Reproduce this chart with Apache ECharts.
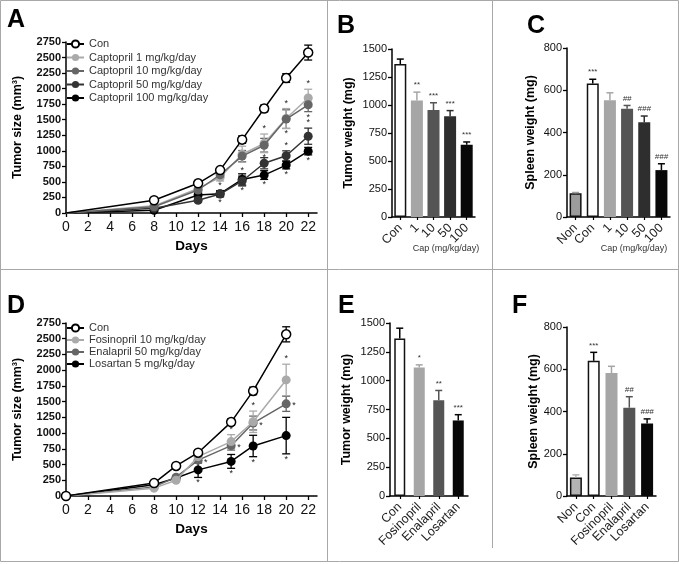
<!DOCTYPE html>
<html><head><meta charset="utf-8">
<script src="https://cdn.jsdelivr.net/npm/echarts@6/dist/echarts.min.js"></script>
<style>html,body{margin:0;padding:0;background:#fff}#c{width:679px;height:564px}</style>
</head><body><div id="c"></div>
<script>
// ---------- Panel A ----------
const daysA = [0, 8, 12, 14, 16, 18, 20, 22];
const dayTicks = [0, 2, 4, 6, 8, 10, 12, 14, 16, 18, 20, 22];
const conA = [0, 205, 478, 690, 1180, 1680, 2170, 2580];
const conAErr = [0, 20, 25, 40, 60, 55, 70, 120];
const cap1 = [0, 115, 395, 575, 945, 1120, 1520, 1850];
const cap1Err = [0, 15, 40, 60, 130, 150, 160, 140];
const cap10 = [0, 100, 370, 615, 915, 1090, 1510, 1740];
const cap10Err = [0, 15, 35, 50, 90, 110, 150, 110];
const cap50 = [0, 75, 205, 305, 515, 800, 920, 1235];
const cap50Err = [0, 10, 30, 40, 80, 90, 80, 130];
const cap100 = [0, 45, 290, 310, 540, 610, 770, 995];
const cap100Err = [0, 10, 30, 50, 90, 70, 60, 60];
// star codes: 0 none, 1 above, 2 below, 3 right
const starsCon = [0, 0, 0, 0, 0, 0, 0, 0];
const starsCap1 = [0, 0, 0, 0, 0, 1, 1, 1];
const starsCap10 = [0, 0, 0, 0, 0, 2, 2, 2];
const starsCap50 = [0, 0, 0, 2, 1, 2, 1, 1];
const starsCap100 = [0, 0, 0, 1, 2, 2, 2, 2];
// ---------- Panel D ----------
const daysD = [0, 8, 10, 12, 15, 17, 20];
const conD = [0, 205, 478, 688, 1175, 1670, 2570];
const conDErr = [0, 20, 25, 40, 50, 60, 120];
const fos = [0, 125, 250, 625, 865, 1180, 1845];
const fosErr = [0, 15, 25, 80, 110, 170, 250];
const ena = [0, 145, 300, 570, 800, 1160, 1465];
const enaErr = [0, 15, 25, 50, 70, 110, 120];
const los = [0, 180, 285, 415, 550, 795, 960];
const losErr = [0, 15, 20, 120, 110, 170, 290];
const starsConD = [0, 0, 0, 0, 0, 0, 0];
const starsFos = [0, 0, 0, 0, 1, 1, 1];
const starsEna = [0, 0, 0, 3, 3, 3, 3];
const starsLos = [0, 0, 0, 2, 2, 2, 2];
// ---------- Panel B ----------
const catsB = ['Con', '1', '10', '50', '100'];
const valsB = [1365, 1040, 955, 900, 645];
const errB = [45, 75, 65, 50, 25];
const starsB = ['', '**', '***', '***', '***'];
// ---------- Panel C ----------
const catsC = ['Non', 'Con', '1', '10', '50', '100'];
const valsC = [112, 632, 553, 513, 448, 222];
const errC = [4, 20, 35, 15, 30, 30];
const starsC = ['', '***', '', '##', '###', '###'];
// ---------- Panel E ----------
const catsE = ['Con', 'Fosinopril', 'Enalapril', 'Losartan'];
const valsE = [1365, 1115, 830, 655];
const errE = [90, 22, 85, 50];
const starsE = ['', '*', '**', '***'];
// ---------- Panel F ----------
const catsF = ['Non', 'Con', 'Fosinopril', 'Enalapril', 'Losartan'];
const valsF = [88, 640, 582, 418, 343];
const errF = [12, 40, 32, 52, 22];
const starsF = ['', '***', '', '##', '###'];

const FONT = '"Liberation Sans", Arial, sans-serif';
const colB = ['#ffffff', '#a6a6a6', '#555555', '#2e2e2e', '#080808'];
const colC = ['#9c9c9c', '#ffffff', '#a6a6a6', '#555555', '#2e2e2e', '#080808'];
const colE = ['#ffffff', '#a6a6a6', '#555555', '#080808'];
const colF = ['#b3b3b3', '#ffffff', '#a6a6a6', '#555555', '#080808'];

function lineErr(color, stars) {
  return function (params, api) {
    const x = api.value(0), y = api.value(1), e = api.value(2);
    const p = api.coord([x, y]);
    const t = api.coord([x, y + e]), b = api.coord([x, y - e]);
    const ch = [];
    if (e > 0) {
      const st = { stroke: color, lineWidth: 1.3 };
      ch.push({ type: 'line', shape: { x1: p[0], y1: t[1], x2: p[0], y2: b[1] }, style: st });
      ch.push({ type: 'line', shape: { x1: p[0] - 4, y1: t[1], x2: p[0] + 4, y2: t[1] }, style: st });
      ch.push({ type: 'line', shape: { x1: p[0] - 4, y1: b[1], x2: p[0] + 4, y2: b[1] }, style: st });
    }
    const s = stars[params.dataIndex];
    const f = '9px ' + FONT;
    if (s === 1) ch.push({ type: 'text', style: { text: '*', x: p[0], y: t[1] - 1, align: 'center', verticalAlign: 'bottom', fill: '#222', font: f } });
    if (s === 2) ch.push({ type: 'text', style: { text: '*', x: p[0], y: b[1] + 1, align: 'center', verticalAlign: 'top', fill: '#222', font: f } });
    if (s === 3) ch.push({ type: 'text', style: { text: '*', x: p[0] + 6, y: p[1] + 2, align: 'left', verticalAlign: 'middle', fill: '#222', font: f } });
    return { type: 'group', children: ch };
  };
}
function barErr(colors, stars) {
  return function (params, api) {
    const i = api.value(0), v = api.value(1), e = api.value(2);
    const b = api.coord([i, v]), t = api.coord([i, v + e]);
    let c = colors[params.dataIndex];
    if (c === '#ffffff') c = '#000';
    const st = { stroke: c, lineWidth: 1.5 };
    const ch = [
      { type: 'line', shape: { x1: b[0], y1: b[1], x2: t[0], y2: t[1] }, style: st },
      { type: 'line', shape: { x1: t[0] - 3.5, y1: t[1], x2: t[0] + 3.5, y2: t[1] }, style: st }
    ];
    const s = stars[params.dataIndex];
    if (s) ch.push({ type: 'text', style: { text: s, x: t[0], y: t[1] - 3, align: 'center', verticalAlign: 'bottom', fill: '#333', font: (s[0] === '#' ? 'italic ' : '') + '8px ' + FONT } });
    return { type: 'group', children: ch };
  };
}

const grids = [
  { left: 66, top: 42, width: 251, height: 171 },   // A
  { left: 392, top: 49, width: 83, height: 168 },   // B
  { left: 567, top: 48, width: 103, height: 169 },  // C
  { left: 66, top: 323, width: 251, height: 173 },  // D
  { left: 390, top: 323, width: 78, height: 173 },  // E
  { left: 567, top: 327, width: 89, height: 169 }   // F
].map(g => Object.assign({ outerBoundsMode: 'none', containLabel: false }, g));

const axisLine = { show: true, lineStyle: { color: '#000', width: 1.5 } };
const axisTick = { show: true, length: 4, lineStyle: { color: '#000', width: 1.3 } };
const nameStyle = { fontFamily: FONT, fontWeight: 'bold', fontSize: 12.5, color: '#000' };
const plain = v => String(v);

function valX(gi) {
  return {
    type: 'value', gridIndex: gi, min: 0, max: 22.8, interval: 2,
    axisLine, splitLine: { show: false },
    axisTick: Object.assign({ customValues: dayTicks }, axisTick),
    axisLabel: { customValues: dayTicks, formatter: plain, fontFamily: FONT, fontSize: 14, color: '#111', margin: 7 },
    name: 'Days', nameLocation: 'middle', nameGap: 26, nameTextStyle: { fontFamily: FONT, fontWeight: 'bold', fontSize: 13.5, color: '#000' }
  };
}
function valY(gi, max, interval, bold, name, gap) {
  return {
    type: 'value', gridIndex: gi, min: 0, max, interval,
    axisLine, axisTick, splitLine: { show: false },
    axisLabel: { formatter: plain, fontFamily: FONT, fontSize: 11, fontWeight: bold ? 'bold' : 'normal', color: '#111', margin: 5 },
    name, nameLocation: 'middle', nameGap: gap, nameTextStyle: nameStyle
  };
}
function catX(gi, cats) {
  return {
    type: 'category', gridIndex: gi, data: cats,
    axisLine, axisTick: { show: true, alignWithLabel: true, length: 3, lineStyle: { color: '#000', width: 1.2 } },
    axisLabel: { interval: 0, rotate: 45, fontFamily: FONT, fontSize: 12.5, color: '#222', margin: 9 }
  };
}

function lineSeries(name, days, vals, color, gi, isCon, hideFirst, z) {
  return {
    type: 'line', name, xAxisIndex: gi, yAxisIndex: gi, z,
    data: days.map((d, i) => (hideFirst && i === 0) ? { value: [d, vals[i]], symbolSize: 0 } : [d, vals[i]]),
    symbol: 'circle', symbolSize: 9,
    lineStyle: { color: isCon ? '#000' : color, width: 1.5 },
    itemStyle: isCon ? { color: '#fff', borderColor: '#000', borderWidth: 1.5 } : { color },
    emphasis: { disabled: true }, animation: false
  };
}
function errSeries(days, vals, errs, color, stars, gi, z) {
  return {
    type: 'custom', xAxisIndex: gi, yAxisIndex: gi, z,
    data: days.map((d, i) => [d, vals[i], errs[i]]),
    encode: { x: 0, y: 1 },
    renderItem: lineErr(color, stars), animation: false, silent: true
  };
}
function barSeries(cats, vals, cols, gi, bw) {
  return {
    type: 'bar', xAxisIndex: gi, yAxisIndex: gi, barWidth: bw,
    data: vals.map((v, i) => ({
      value: v,
      itemStyle: { color: cols[i], borderColor: (cols[i] === '#ffffff' || cats[i] === 'Non') ? '#111' : cols[i], borderWidth: (cols[i] === '#ffffff' || cats[i] === 'Non') ? 1.5 : 0 }
    })),
    animation: false, silent: true
  };
}
function barErrSeries(vals, errs, cols, stars, gi) {
  return {
    type: 'custom', xAxisIndex: gi, yAxisIndex: gi, z: 5,
    data: vals.map((v, i) => [i, v, errs[i]]),
    encode: { x: 0, y: 1 },
    renderItem: barErr(cols, stars), animation: false, silent: true
  };
}

const lgA = ['Con', 'Captopril 1 mg/kg/day', 'Captopril 10 mg/kg/day', 'Captopril 50 mg/kg/day', 'Captopril 100 mg/kg/day'];
const lgD = ['Con', 'Fosinopril 10 mg/kg/day', 'Enalapril 50 mg/kg/day', 'Losartan 5 mg/kg/day'];

const gLine = (x1, y1, x2, y2) => ({ type: 'line', shape: { x1, y1, x2, y2 }, style: { stroke: '#a8a8a8', lineWidth: 1 }, silent: true });
const gLetter = (t, x, y) => ({ type: 'text', left: x, top: y, style: { text: t, font: 'bold 25px ' + FONT, fill: '#000' } });
const gSmall = (t, x, y) => ({ type: 'text', x, y, style: { text: t, font: '9px ' + FONT, fill: '#333', align: 'center', verticalAlign: 'middle' } });

const option = {
  backgroundColor: '#fff',
  animation: false,
  grid: grids,
  xAxis: [valX(0), catX(1, catsB), catX(2, catsC), valX(3), catX(4, catsE), catX(5, catsF)],
  yAxis: [
    valY(0, 2750, 250, true, 'Tumor size (mm³)', 42),
    valY(1, 1500, 250, false, 'Tumor weight (mg)', 37),
    valY(2, 800, 200, false, 'Spleen weight (mg)', 30),
    valY(3, 2750, 250, true, 'Tumor size (mm³)', 42),
    valY(4, 1500, 250, false, 'Tumor weight (mg)', 37),
    valY(5, 800, 200, false, 'Spleen weight (mg)', 27)
  ],
  legend: [
    { data: lgA, orient: 'vertical', left: 66, top: 37.5, padding: 0, itemWidth: 17, itemHeight: 9, itemGap: 0.5,
      textStyle: { fontFamily: FONT, fontSize: 11, color: '#333', lineHeight: 13 }, selectedMode: false },
    { data: lgD, orient: 'vertical', left: 66, top: 322, padding: 0, itemWidth: 17, itemHeight: 9, itemGap: 0,
      textStyle: { fontFamily: FONT, fontSize: 11, color: '#333', lineHeight: 12 }, selectedMode: false }
  ],
  graphic: [
    gLine(0.5, 0.5, 678.5, 0.5), gLine(0.5, 0.5, 0.5, 561.5), gLine(0.5, 561.5, 678.5, 561.5), gLine(678.5, 0.5, 678.5, 561.5),
    gLine(0, 269.5, 679, 269.5), gLine(327.5, 0, 327.5, 562), gLine(492.5, 0, 492.5, 548),
    gLetter('A', 7, 8), gLetter('B', 337, 14), gLetter('C', 527, 14),
    gLetter('D', 7, 294), gLetter('E', 338, 294), gLetter('F', 512, 294),
    gSmall('Cap (mg/kg/day)', 446, 249), gSmall('Cap (mg/kg/day)', 634, 249)
  ],
  series: [
    errSeries(daysA, cap100, cap100Err, '#000', starsCap100, 0, 1),
    errSeries(daysA, cap50, cap50Err, '#333', starsCap50, 0, 1),
    errSeries(daysA, cap10, cap10Err, '#666', starsCap10, 0, 1),
    errSeries(daysA, cap1, cap1Err, '#aaa', starsCap1, 0, 1),
    errSeries(daysA, conA, conAErr, '#000', starsCon, 0, 1),
    lineSeries(lgA[4], daysA, cap100, '#000', 0, false, true, 2),
    lineSeries(lgA[3], daysA, cap50, '#333', 0, false, true, 3),
    lineSeries(lgA[2], daysA, cap10, '#666', 0, false, true, 4),
    lineSeries(lgA[1], daysA, cap1, '#aaa', 0, false, true, 3),
    lineSeries(lgA[0], daysA, conA, '#000', 0, true, true, 6),

    errSeries(daysD, los, losErr, '#000', starsLos, 3, 1),
    errSeries(daysD, ena, enaErr, '#666', starsEna, 3, 1),
    errSeries(daysD, fos, fosErr, '#aaa', starsFos, 3, 1),
    errSeries(daysD, conD, conDErr, '#000', starsConD, 3, 1),
    lineSeries(lgD[3], daysD, los, '#000', 3, false, false, 2),
    lineSeries(lgD[2], daysD, ena, '#666', 3, false, false, 3),
    lineSeries(lgD[1], daysD, fos, '#aaa', 3, false, false, 4),
    lineSeries(lgD[0], daysD, conD, '#000', 3, true, false, 6),

    barSeries(catsB, valsB, colB, 1, 12), barErrSeries(valsB, errB, colB, starsB, 1),
    barSeries(catsC, valsC, colC, 2, 12), barErrSeries(valsC, errC, colC, starsC, 2),
    barSeries(catsE, valsE, colE, 4, 11), barErrSeries(valsE, errE, colE, starsE, 4),
    barSeries(catsF, valsF, colF, 5, 12), barErrSeries(valsF, errF, colF, starsF, 5)
  ]
};
const chart = echarts.init(document.getElementById('c'), null, { renderer: 'canvas' });
chart.setOption(option);
</script>
</body></html>
